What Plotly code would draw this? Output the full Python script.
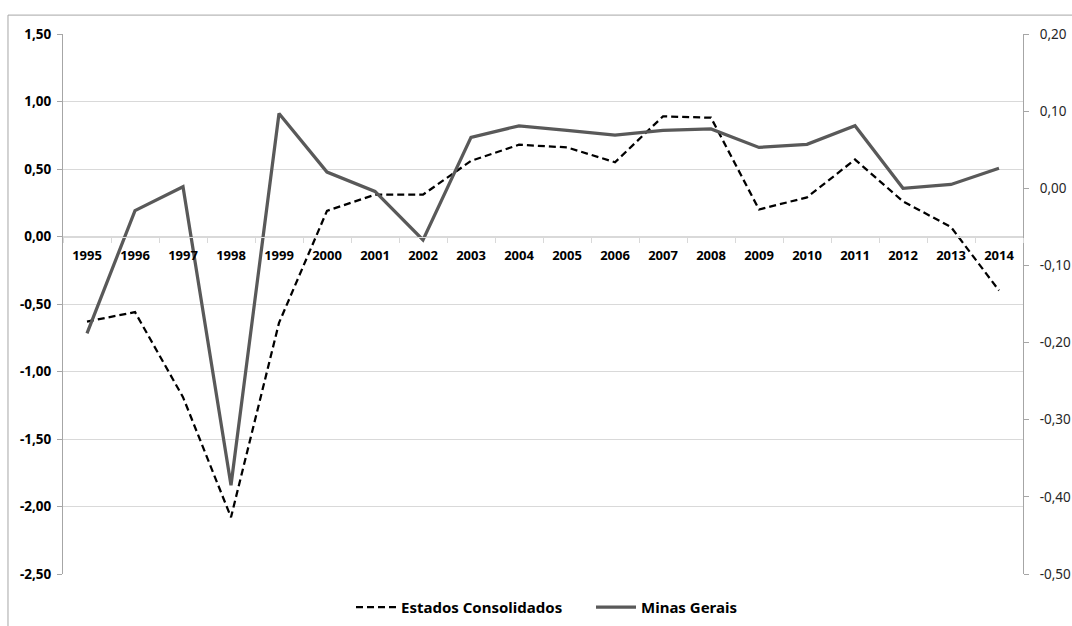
import plotly.graph_objects as go

# Anos da série
anos = [str(a) for a in range(1995, 2015)]

# Estados Consolidados (eixo esquerdo)
estados_consolidados = [-0.63, -0.56, -1.19, -2.08, -0.64, 0.19, 0.31, 0.31, 0.56, 0.68,
                        0.66, 0.55, 0.89, 0.88, 0.20, 0.29, 0.57, 0.26, 0.07, -0.40]

# Minas Gerais (eixo direito)
minas_gerais = [-0.188, -0.029, 0.002, -0.385, 0.097, 0.021, -0.004, -0.067, 0.066, 0.081,
                0.075, 0.069, 0.075, 0.077, 0.053, 0.057, 0.081, 0.000, 0.005, 0.026]

# Marcas dos eixos (rótulos com vírgula decimal e hífen como sinal)
ticks_esq = [1.5, 1.0, 0.5, 0.0, -0.5, -1.0, -1.5, -2.0, -2.5]
rotulos_esq = ["1,50", "1,00", "0,50", "0,00", "-0,50", "-1,00", "-1,50", "-2,00", "-2,50"]
ticks_dir = [0.2, 0.1, 0.0, -0.1, -0.2, -0.3, -0.4, -0.5]
rotulos_dir = ["0,20", "0,10", "0,00", "-0,10", "-0,20", "-0,30", "-0,40", "-0,50"]

FONTE = "Noto Sans"
CINZA_EIXO = "#a6a6a6"
CINZA_GRADE = "#d9d9d9"

fig = go.Figure()

fig.add_trace(go.Scatter(
    x=anos, y=estados_consolidados, name="Estados Consolidados",
    mode="lines", yaxis="y",
    line=dict(color="#000000", width=2.25, dash="7px,4px"),
))

fig.add_trace(go.Scatter(
    x=anos, y=minas_gerais, name="Minas Gerais",
    mode="lines", yaxis="y2",
    line=dict(color="#595959", width=3.25),
))

fig.update_layout(
    width=1072, height=626,
    margin=dict(l=63, r=49, t=34, b=52, autoexpand=False),
    paper_bgcolor="white", plot_bgcolor="white",
    separators=",.",
    showlegend=True,
    legend=dict(
        orientation="h", x=0.3, y=-0.062, xanchor="left", yanchor="middle",
        font=dict(family=FONTE, size=15, color="#000000", weight="bold"),
        bgcolor="rgba(0,0,0,0)", itemwidth=40, tracegroupgap=0,
        entrywidth=185, entrywidthmode="pixels",
    ),
    xaxis=dict(
        type="category", anchor="free", position=0.625,
        range=[-0.5, len(anos) - 0.5],
        showgrid=False, showline=True, linecolor=CINZA_GRADE, linewidth=1,
        ticks="outside", tickson="boundaries", ticklen=5, tickcolor=CINZA_GRADE,
        tickfont=dict(family=FONTE, size=13, color="#000000", weight="bold"),
        ticklabelstandoff=7,
        zeroline=False, fixedrange=True,
    ),
    yaxis=dict(
        range=[-2.5, 1.5], tickvals=ticks_esq, ticktext=rotulos_esq,
        showgrid=True, gridcolor=CINZA_GRADE, gridwidth=1,
        showline=True, linecolor=CINZA_EIXO, linewidth=1,
        ticks="outside", ticklen=5, tickcolor=CINZA_EIXO,
        tickfont=dict(family=FONTE, size=13.5, color="#000000", weight="bold"),
        ticklabelstandoff=3,
        zeroline=False,
    ),
    yaxis2=dict(
        range=[-0.5, 0.2], tickvals=ticks_dir, ticktext=rotulos_dir,
        overlaying="y", side="right", anchor="x",
        showgrid=False, showline=True, linecolor=CINZA_EIXO, linewidth=1,
        ticks="outside", ticklen=5, tickcolor=CINZA_EIXO,
        tickfont=dict(family=FONTE, size=13.5, color="#262626"),
        ticklabelstandoff=8,
        zeroline=False,
    ),
    shapes=[dict(
        type="rect", xref="paper", yref="paper",
        x0=-0.0573, x1=1.2, y0=-0.25, y1=1.035,
        line=dict(color=CINZA_EIXO, width=1), layer="below",
    )],
)

fig.write_html("out.html")
